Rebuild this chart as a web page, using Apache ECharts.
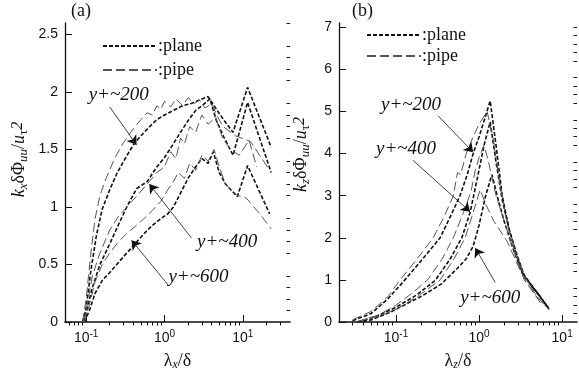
<!DOCTYPE html>
<html><head><meta charset="utf-8">
<script src="https://cdn.jsdelivr.net/npm/echarts@6/dist/echarts.min.js"></script>
<style>html,body{margin:0;padding:0;background:#fff}#c{width:579px;height:376px}</style>
</head><body><div id="c"></div>
<script>
// ---------- data: panel (a) streamwise, [lambda_x/delta, k_x delta Phi_uu / u_tau^2]
const planeA200 = [[0.09,0],[0.1,0.12],[0.115,0.45],[0.135,0.75],[0.16,0.98],[0.2,1.15],[0.25,1.3],[0.32,1.43],[0.4,1.54],[0.5,1.62],[0.65,1.7],[0.8,1.76],[1.0,1.8],[1.3,1.84],[1.7,1.88],[2.2,1.9],[2.8,1.93],[3.6,1.96],[4.6,1.85],[5.8,1.75],[7.5,1.65],[11.5,2.04],[23,1.52]];
const pipeA200 = [[0.09,0],[0.1,0.2],[0.115,0.6],[0.13,0.9],[0.15,1.1],[0.18,1.25],[0.23,1.42],[0.3,1.56],[0.4,1.68],[0.5,1.76],[0.6,1.82],[0.7,1.8],[0.8,1.88],[0.9,1.85],[1.0,1.92],[1.2,1.87],[1.4,1.94],[1.7,1.88],[2.0,1.95],[2.4,1.9],[2.8,1.93],[3.3,1.86],[4.0,1.9],[4.8,1.78],[5.6,1.7],[8,1.62],[12.5,1.57],[21,1.34]];
const planeA400 = [[0.092,0],[0.1,0.08],[0.12,0.3],[0.15,0.5],[0.2,0.68],[0.26,0.85],[0.33,1.0],[0.44,1.16],[0.6,1.22],[0.8,1.35],[1.0,1.43],[1.3,1.55],[1.6,1.65],[2.0,1.75],[2.5,1.84],[3.0,1.88],[3.8,1.94],[4.6,1.75],[5.8,1.6],[7.5,1.45],[11.5,1.91],[23,1.3]];
const pipeA400 = [[0.092,0],[0.1,0.1],[0.12,0.4],[0.15,0.6],[0.2,0.8],[0.26,0.92],[0.33,1.0],[0.45,1.1],[0.6,1.2],[0.8,1.3],[1.0,1.35],[1.2,1.48],[1.4,1.42],[1.6,1.6],[1.8,1.55],[2.1,1.7],[2.5,1.65],[3.0,1.8],[3.6,1.72],[4.5,1.78],[5.5,1.6],[7,1.5],[9,1.45],[12,1.58],[15,1.35]];
const planeA600 = [[0.095,0],[0.11,0.1],[0.13,0.25],[0.16,0.36],[0.2,0.43],[0.26,0.52],[0.33,0.6],[0.42,0.68],[0.55,0.77],[0.7,0.84],[0.9,0.9],[1.1,0.94],[1.3,1.0],[1.6,1.12],[2.0,1.25],[2.5,1.35],[3.0,1.42],[3.6,1.38],[4.2,1.48],[5.0,1.3],[6.0,1.2],[8.5,1.09],[11.5,1.36],[22,0.94]];
const pipeA600 = [[0.095,0],[0.11,0.15],[0.13,0.35],[0.16,0.5],[0.2,0.6],[0.26,0.7],[0.33,0.77],[0.42,0.83],[0.55,0.9],[0.7,0.97],[0.9,1.05],[1.1,1.15],[1.3,1.22],[1.5,1.3],[1.8,1.25],[2.1,1.38],[2.5,1.32],[3.0,1.45],[3.6,1.4],[4.3,1.5],[5.0,1.35],[6,1.2],[8.5,1.1],[11,1.08],[16,0.95],[23,0.81]];

// ---------- data: panel (b) spanwise, [lambda_z/delta, k_z delta Phi_uu / u_tau^2]
const planeB200 = [[0.03,0.03],[0.05,0.2],[0.08,0.55],[0.128,1.0],[0.2,1.45],[0.34,2.0],[0.45,2.5],[0.59,3.0],[0.72,3.5],[0.85,4.0],[1.0,4.4],[1.2,4.9],[1.36,5.25],[1.6,4.2],[1.9,3.0],[2.3,2.2],[2.8,1.6],[3.4,1.15],[4.5,0.8],[6.8,0.35]];
const pipeB200 = [[0.03,0.05],[0.05,0.25],[0.08,0.6],[0.112,1.0],[0.18,1.5],[0.28,2.0],[0.38,2.5],[0.49,3.0],[0.55,3.55],[0.6,3.5],[0.7,4.0],[0.85,4.4],[1.0,4.7],[1.25,5.0],[1.5,4.3],[1.8,3.2],[2.2,2.3],[2.8,1.6],[3.5,1.1],[5,0.6],[6.5,0.35]];
const planeB400 = [[0.035,0.0],[0.06,0.15],[0.1,0.35],[0.18,0.65],[0.3,1.0],[0.45,1.5],[0.62,2.0],[0.78,2.6],[0.95,3.4],[1.15,4.2],[1.36,4.75],[1.6,3.8],[1.9,2.9],[2.3,2.2],[2.8,1.65],[3.5,1.1],[5,0.7],[7,0.3]];
const pipeB400 = [[0.035,0.02],[0.06,0.15],[0.1,0.4],[0.16,0.7],[0.24,1.0],[0.36,1.5],[0.49,2.0],[0.65,2.6],[0.8,3.1],[0.9,3.6],[1.0,3.9],[1.15,4.2],[1.3,3.8],[1.6,3.0],[2.0,2.4],[2.6,1.7],[3.5,1.0],[5,0.6],[6.5,0.35]];
const planeB600 = [[0.034,0.0],[0.05,0.05],[0.085,0.23],[0.14,0.45],[0.21,0.63],[0.35,0.9],[0.54,1.26],[0.7,1.5],[0.85,1.8],[1.0,2.3],[1.2,3.0],[1.43,3.5],[1.65,3.0],[2.0,2.4],[2.5,1.8],[3.4,1.1],[5,0.7],[7,0.3]];
const pipeB600 = [[0.035,0.02],[0.06,0.12],[0.1,0.3],[0.18,0.6],[0.34,1.0],[0.5,1.5],[0.68,2.0],[0.85,2.6],[1.03,3.14],[1.2,2.8],[1.5,2.4],[2.2,1.9],[3,1.3],[4,0.85],[5.5,0.45]];

// ---------- ticks
const xMajorA = [0.1, 1, 10];
const xMinorA = [0.06,0.07,0.08,0.09,0.2,0.3,0.4,0.5,0.6,0.7,0.8,0.9,2,3,4,5,6,7,8,9,20,30];
const yMajorA = [0, 0.5, 1, 1.5, 2, 2.5];
const yMinorA = [0.1,0.2,0.3,0.4,0.6,0.7,0.8,0.9,1.1,1.2,1.3,1.4,1.6,1.7,1.8,1.9,2.1,2.2,2.3,2.4,2.6];
const xMajorB = [0.1, 1, 10];
const xMinorB = [0.03,0.04,0.05,0.06,0.07,0.08,0.09,0.2,0.3,0.4,0.5,0.6,0.7,0.8,0.9,2,3,4,5,6,7,8,9];
const yMajorB = [0,1,2,3,4,5,6,7];
const yMinorB = [0.2,0.4,0.6,0.8,1.2,1.4,1.6,1.8,2.2,2.4,2.6,2.8,3.2,3.4,3.6,3.8,4.2,4.4,4.6,4.8,5.2,5.4,5.6,5.8,6.2,6.4,6.6,6.8,7.0];

// ---------- annotations (data coordinates)
const labelsA = [{t:'y+~200', c:[0.26,1.97]}, {t:'y+~400', c:[6.3,0.70]}, {t:'y+~600', c:[2.71,0.39]}];
const arrowsA = [[[0.2,1.87],[0.44,1.54]], [[2.21,0.73],[0.64,1.2]], [[1.09,0.33],[0.38,0.71]]];
const labelsB = [{t:'y+~200', c:[0.152,5.15]}, {t:'y+~400', c:[0.132,4.1]}, {t:'y+~600', c:[1.36,0.56]}];
const arrowsB = [[[0.32,4.9],[0.85,4.03]], [[0.16,3.84],[0.78,2.62]], [[1.56,0.94],[0.9,1.76]]];

const SERIF = 'Liberation Serif';
const SANS = 'Liberation Sans';
const chart = echarts.init(document.getElementById('c'), null, {renderer:'canvas'});

function expLabel(v){
  const e = Math.round(Math.log10(v));
  return '{b|10}{s|' + e + '}';
}
const expRich = {b:{fontFamily:SANS,fontSize:14,color:'#111'}, s:{fontFamily:SANS,fontSize:10,color:'#111',padding:[0,0,9,0]}};

function xAxes(grid, min, max, majors, minors, nameRich){
  return [
    {type:'log', gridIndex:grid, min:min, max:max, logBase:10,
     axisLine:{show:true, lineStyle:{color:'#111', width:1.6}},
     axisTick:{show:true, inside:true, length:7, customValues:majors, lineStyle:{color:'#111', width:1}},
     axisLabel:{show:true, customValues:majors, formatter:expLabel, rich:expRich, margin:7},
     minorTick:{show:false}, splitLine:{show:false},
     name:nameRich, nameLocation:'middle', nameGap:30,
     nameTextStyle:{fontFamily:SERIF, fontSize:18, color:'#111', rich:{
        l:{fontFamily:SERIF,fontSize:18,color:'#111'},
        sub:{fontFamily:SERIF,fontSize:12,fontStyle:'italic',color:'#111',padding:[7,0,0,0]}}}
    },
    {type:'log', gridIndex:grid, min:min, max:max, logBase:10,
     axisLine:{show:false}, axisLabel:{show:false}, splitLine:{show:false},
     axisTick:{show:true, inside:true, length:3.5, customValues:minors, lineStyle:{color:'#111', width:1}}}
  ];
}
function yAxes(grid, min, max, majors, minors, fmt, nameRich, gap, shift){
  return [
    {type:'value', gridIndex:grid, min:min, max:max,
     axisLine:{show:true, lineStyle:{color:'#111', width:1.3}},
     axisTick:{show:true, inside:true, length:7, customValues:majors, lineStyle:{color:'#111', width:1}},
     axisLabel:{show:true, customValues:majors, formatter:fmt, fontFamily:SANS, fontSize:14, color:'#111', margin:7},
     splitLine:{show:false},
     name:nameRich, nameLocation:'middle', nameGap:gap, nameRotate:90,
     nameTextStyle:{fontFamily:SERIF, fontSize:18, color:'#111', padding:[0,0,0,shift], rich:{
        i:{fontFamily:SERIF,fontSize:18,fontStyle:'italic',color:'#111'},
        n:{fontFamily:SERIF,fontSize:18,color:'#111'},
        sub:{fontFamily:SERIF,fontSize:13,fontStyle:'italic',color:'#111',padding:[8,0,0,0]},
        subn:{fontFamily:SERIF,fontSize:13,color:'#111',padding:[8,0,0,0]},
        sup:{fontFamily:SERIF,fontSize:16,fontStyle:'italic',color:'#111',padding:[0,0,4,0]}}}
    },
    {type:'value', gridIndex:grid, min:min, max:max,
     axisLine:{show:false}, axisLabel:{show:false}, splitLine:{show:false},
     axisTick:{show:true, inside:true, length:3.5, customValues:minors, lineStyle:{color:'#111', width:1}}}
  ];
}

const planeStyle = {color:'#111', width:1.6, type:[4,2]};
const pipeStyle = {color:'#555', width:1, type:[9,4]};

function ser(name, data, xi, yi, style, extra){
  return Object.assign({type:'line', name:name, data:data, xAxisIndex:xi, yAxisIndex:yi,
    symbol:'none', smooth:false, lineStyle:style, color:style.color, z:3}, extra||{});
}
function annot(labels, arrows){
  return {
    markLine:{silent:true, symbol:['none','arrow'], symbolSize:9, label:{show:false},
      lineStyle:{color:'#111', width:0.8, type:'solid'},
      itemStyle:{color:'#111'},
      data: arrows.map(a => [{coord:a[0]}, {coord:a[1]}])},
    markPoint:{silent:true, symbol:'circle', symbolSize:0,
      label:{show:true, position:'inside', fontFamily:SERIF, fontStyle:'italic', fontSize:19, color:'#111', formatter:p=>p.name},
      data: labels.map(l => ({name:l.t, coord:l.c}))}
  };
}

const legendCommon = {orient:'vertical', itemWidth:54, itemHeight:12, selectedMode:false,
  data:['plane','pipe'], formatter:n=>':'+n, itemStyle:{opacity:0, borderWidth:0},
  textStyle:{fontFamily:SERIF, fontSize:18, color:'#111', padding:[0,0,0,-4]}};

const option = {
  animation:false,
  backgroundColor:'#fff',
  grid:[{left:65, top:23, width:225, height:304}, {left:339, top:23, width:238, height:304}],
  xAxis:[].concat(
    xAxes(0, 0.0537, 40, xMajorA, xMinorA, '{l|λ}{sub|x}{l|/δ}'),
    xAxes(1, 0.0206, 15.1, xMajorB, xMinorB, '{l|λ}{sub|z}{l|/δ}')),
  yAxis:[].concat(
    yAxes(0, 0, 2.6, yMajorA, yMinorA, v=>String(v), '{i|k}{sub|x}{n|δΦ}{sub|uu}{n|/}{i|u}{subn|τ}{sup|2}', 35, 26),
    yAxes(1, 0, 7.1, yMajorB, yMinorB, v=>String(v), '{i|k}{sub|z}{n|δΦ}{sub|uu}{n|/}{i|u}{subn|τ}{sup|2}', 27, 36)),
  legend:[
    Object.assign({}, legendCommon, {left:97, top:32, itemGap:6}),
    Object.assign({}, legendCommon, {left:361, top:21, itemGap:3})
  ],
  graphic:[
    {type:'text', left:71, top:2, style:{text:'(a)', fontFamily:SERIF, fontSize:18, fill:'#111'}},
    {type:'text', left:352, top:2, style:{text:'(b)', fontFamily:SERIF, fontSize:18, fill:'#111'}}
  ],
  series:[
    ser('plane', planeA200, 0, 0, planeStyle, annot(labelsA, arrowsA)),
    ser('plane', planeA400, 0, 0, planeStyle),
    ser('plane', planeA600, 0, 0, planeStyle),
    ser('pipe', pipeA200, 0, 0, pipeStyle),
    ser('pipe', pipeA400, 0, 0, pipeStyle),
    ser('pipe', pipeA600, 0, 0, pipeStyle),
    ser('plane', planeB200, 2, 2, planeStyle, annot(labelsB, arrowsB)),
    ser('plane', planeB400, 2, 2, planeStyle),
    ser('plane', planeB600, 2, 2, planeStyle),
    ser('pipe', pipeB200, 2, 2, pipeStyle),
    ser('pipe', pipeB400, 2, 2, pipeStyle),
    ser('pipe', pipeB600, 2, 2, pipeStyle)
  ]
};
chart.setOption(option);
</script></body></html>
